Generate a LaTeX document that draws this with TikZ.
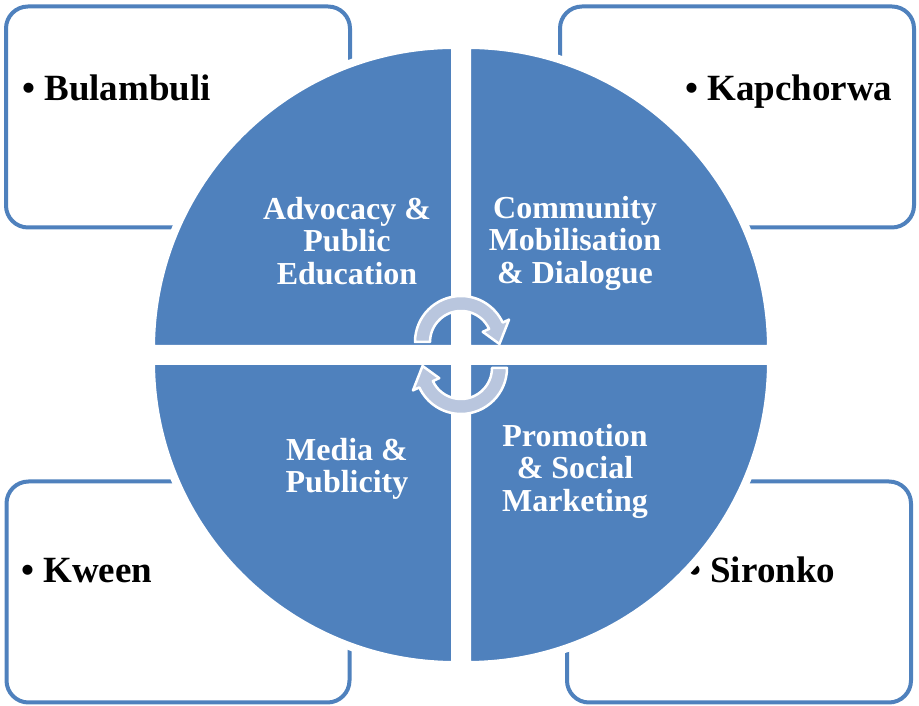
\documentclass[tikz,border=0pt]{standalone}
\usepackage{fontspec}
\setmainfont{Liberation Serif}
\usepackage{xcolor}
\usepackage{tikz}

\definecolor{quadblue}{HTML}{4F81BD}
\definecolor{arrowgrey}{HTML}{B9C6DE}

\tikzset{
  cycle arrow/.pic={
    \filldraw[fill=arrowgrey, draw=white, line width=2.5pt, line join=round]
      (180:31) -- (180:46) arc[start angle=180, end angle=25, radius=46]
      -- (25:53) -- (-3:38.5) -- (25:24) -- (25:31)
      arc[start angle=25, end angle=180, radius=31] -- cycle;
  }
}

\begin{document}
\begin{tikzpicture}[x=1pt, y=1pt,
  districtbox/.style={draw=quadblue, line width=4pt, rounded corners=22pt, fill=white, minimum height=221pt},
  district/.style={font=\fontsize{37}{40}\selectfont\bfseries, inner sep=0pt, anchor=base west},
  quadrant/.style={fill=quadblue, draw=white, line width=8pt, line join=round},
  quadtext/.style={font=\fontsize{32}{32.5}\selectfont\bfseries, text=white, align=center, inner sep=0pt}]
\useasboundingbox (0,0) rectangle (919,706);

\node[districtbox, minimum width=344pt] (bulbox) at (178,589) {};
\node[districtbox, minimum width=354pt] (kapbox) at (737,589) {};
\node[districtbox, minimum width=343pt] (kwebox) at (178,114) {};
\node[districtbox, minimum width=344pt] (sirbox) at (739,114) {};

\node[district] (bul) at (22,605) {• Bulambuli};
\node[district] (kap) at (685,605) {• Kapchorwa};
\node[district] (kwe) at (21,123) {• Kween};
\node[district] (sir) at (688,123) {• Sironko};

\filldraw[quadrant] (455,357) -- (151,357) arc[start angle=180, end angle=90, radius=304] -- cycle;
\filldraw[quadrant] (467,357) -- (467,661) arc[start angle=90, end angle=0, radius=304] -- cycle;
\filldraw[quadrant] (455,345) -- (455,41) arc[start angle=270, end angle=180, radius=304] -- cycle;
\filldraw[quadrant] (467,345) -- (771,345) arc[start angle=0, end angle=-90, radius=304] -- cycle;

\node[quadtext] (adv) at (347,465) {Advocacy \&\\Public\\Education};
\node[quadtext] (com) at (575,463) {Community\\Mobilisation\\\& Dialogue};
\node[quadtext] (med) at (347,237) {Media \&\\Publicity};
\node[quadtext] (pro) at (575,235) {Promotion\\\& Social\\Marketing};

\pic at (461,364) {cycle arrow};
\pic[rotate=180] at (461,338) {cycle arrow};
\end{tikzpicture}
\end{document}
